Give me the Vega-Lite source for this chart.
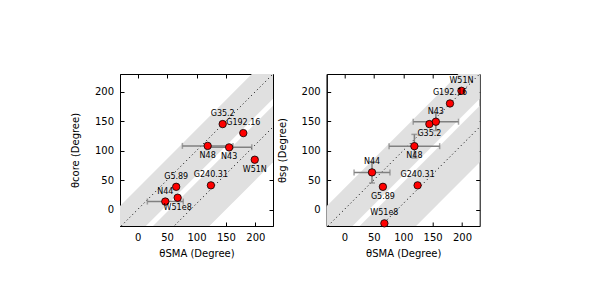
{
  "$schema": "https://vega.github.io/schema/vega-lite/v6.json",
  "background": "white",
  "padding": {"left": 69, "top": 73, "right": 5, "bottom": 5},
  "spacing": 53.7,
  "bounds": "flush",
  "config": {
    "view": {"stroke": "black", "strokeWidth": 1},
    "axis": {
      "grid": false,
      "domainColor": "black",
      "tickColor": "black",
      "labelColor": "black",
      "titleColor": "black",
      "labelFont": "DejaVu Sans",
      "titleFont": "DejaVu Sans",
      "labelFontSize": 10,
      "titleFontSize": 10,
      "titleFontWeight": "normal",
      "tickSize": -4,
      "labelPadding": 10.5
    },
    "axisX": {"titlePadding": 6},
    "axisY": {"titlePadding": 14},
    "text": {"font": "DejaVu Sans", "fontSize": 8}
  },
  "datasets": {
    "src": [
      {"name": "G35.2", "sma": 144.5, "core": 145, "sg": 145},
      {"name": "G192.16", "sma": 179.5, "core": 129.7, "sg": 180},
      {"name": "N48", "sma": 119, "core": 108, "sg": 107.5, "smaErr": 43, "sgErr": 20},
      {"name": "N43", "sma": 155.5, "core": 105.5, "sg": 149, "smaErr": 38.5, "sgErr": 15},
      {"name": "W51N", "sma": 199, "core": 84.5, "sg": 201.5},
      {"name": "G5.89", "sma": 65.5, "core": 38.5, "sg": 38.5},
      {"name": "G240.31", "sma": 124.5, "core": 41, "sg": 41},
      {"name": "N44", "sma": 47, "core": 13.5, "sg": 63, "smaErr": 30.5, "sgErr": 18},
      {"name": "W51e8", "sma": 68, "core": 20, "sg": -23.5}
    ],
    "bands": [
      {"band": "parallel", "x": -100, "lo": -142, "hi": -64},
      {"band": "parallel", "x": 300, "lo": 258, "hi": 336},
      {"band": "perpendicular", "x": -100, "lo": -250, "hi": -154},
      {"band": "perpendicular", "x": 300, "lo": 150, "hi": 246}
    ],
    "lines": [
      {"line": "parallel", "x": -100, "y": -100},
      {"line": "parallel", "x": 300, "y": 300},
      {"line": "perpendicular", "x": -100, "y": -190},
      {"line": "perpendicular", "x": 300, "y": 210}
    ]
  },
  "hconcat": [
    {
      "width": 153,
      "height": 152,
      "resolve": {"axis": {"x": "independent", "y": "independent"}},
      "layer": [
        {
          "data": {"name": "bands"},
          "mark": {"type": "area", "clip": true, "color": "#e0e0e0", "opacity": 1},
          "encoding": {
            "x": {"field": "x", "type": "quantitative", "scale": {"domain": [-30, 230], "nice": false, "zero": false}, "axis": {"orient": "bottom", "values": [0, 50, 100, 150, 200], "title": "θSMA (Degree)"}},
            "y": {"field": "lo", "type": "quantitative", "scale": {"domain": [-28, 230], "nice": false, "zero": false}, "axis": {"orient": "left", "values": [0, 50, 100, 150, 200], "title": "θcore (Degree)"}},
            "y2": {"field": "hi"},
            "detail": {"field": "band"}
          }
        },
        {
          "data": {"name": "lines"},
          "mark": {"type": "line", "clip": true, "color": "black", "strokeWidth": 1, "strokeDash": [1, 3]},
          "encoding": {
            "x": {"field": "x", "type": "quantitative", "axis": null},
            "y": {"field": "y", "type": "quantitative", "axis": null},
            "detail": {"field": "line"}
          }
        },
        {
          "data": {"name": "src"},
          "transform": [{"filter": "isValid(datum.smaErr)"}],
          "mark": {"type": "errorbar", "ticks": {"size": 6}, "color": "#808080", "thickness": 1.5},
          "encoding": {
            "x": {"field": "sma", "type": "quantitative", "axis": null},
            "xError": {"field": "smaErr"},
            "y": {"field": "core", "type": "quantitative", "axis": null}
          }
        },
        {
          "data": {"name": "src"},
          "mark": {"type": "circle", "size": 55, "color": "#ff0000", "opacity": 1, "stroke": "black", "strokeWidth": 0.8},
          "encoding": {
            "x": {"field": "sma", "type": "quantitative", "axis": {"orient": "top", "values": [0, 50, 100, 150, 200], "labels": false, "title": null, "domain": false}},
            "y": {"field": "core", "type": "quantitative", "axis": {"orient": "right", "values": [0, 50, 100, 150, 200], "labels": false, "title": null, "domain": false}}
          }
        },
        {
          "data": {"name": "src"},
          "transform": [{"filter": {"field": "name", "oneOf": ["G35.2", "G192.16", "G5.89", "G240.31", "N44"]}}],
          "mark": {"type": "text", "dy": -10, "baseline": "middle", "align": "center"},
          "encoding": {
            "x": {"field": "sma", "type": "quantitative", "axis": null},
            "y": {"field": "core", "type": "quantitative", "axis": null},
            "text": {"field": "name"}
          }
        },
        {
          "data": {"name": "src"},
          "transform": [{"filter": {"field": "name", "oneOf": ["N48", "N43", "W51N", "W51e8"]}}],
          "mark": {"type": "text", "dy": 10, "baseline": "middle", "align": "center"},
          "encoding": {
            "x": {"field": "sma", "type": "quantitative", "axis": null},
            "y": {"field": "core", "type": "quantitative", "axis": null},
            "text": {"field": "name"}
          }
        }
      ]
    },
    {
      "width": 153,
      "height": 152,
      "resolve": {"axis": {"x": "independent", "y": "independent"}},
      "layer": [
        {
          "data": {"name": "bands"},
          "mark": {"type": "area", "clip": true, "color": "#e0e0e0", "opacity": 1},
          "encoding": {
            "x": {"field": "x", "type": "quantitative", "scale": {"domain": [-30, 230], "nice": false, "zero": false}, "axis": {"orient": "bottom", "values": [0, 50, 100, 150, 200], "title": "θSMA (Degree)"}},
            "y": {"field": "lo", "type": "quantitative", "scale": {"domain": [-28, 230], "nice": false, "zero": false}, "axis": {"orient": "left", "values": [0, 50, 100, 150, 200], "title": "θsg (Degree)"}},
            "y2": {"field": "hi"},
            "detail": {"field": "band"}
          }
        },
        {
          "data": {"name": "lines"},
          "mark": {"type": "line", "clip": true, "color": "black", "strokeWidth": 1, "strokeDash": [1, 3]},
          "encoding": {
            "x": {"field": "x", "type": "quantitative", "axis": null},
            "y": {"field": "y", "type": "quantitative", "axis": null},
            "detail": {"field": "line"}
          }
        },
        {
          "data": {"name": "src"},
          "transform": [{"filter": "isValid(datum.smaErr)"}],
          "mark": {"type": "errorbar", "ticks": {"size": 6}, "color": "#808080", "thickness": 1.5},
          "encoding": {
            "x": {"field": "sma", "type": "quantitative", "axis": null},
            "xError": {"field": "smaErr"},
            "y": {"field": "sg", "type": "quantitative", "axis": null}
          }
        },
        {
          "data": {"name": "src"},
          "transform": [{"filter": "isValid(datum.sgErr)"}],
          "mark": {"type": "errorbar", "ticks": {"size": 6}, "color": "#808080", "thickness": 1.5},
          "encoding": {
            "x": {"field": "sma", "type": "quantitative", "axis": null},
            "y": {"field": "sg", "type": "quantitative", "axis": null},
            "yError": {"field": "sgErr"}
          }
        },
        {
          "data": {"name": "src"},
          "mark": {"type": "circle", "size": 55, "color": "#ff0000", "opacity": 1, "stroke": "black", "strokeWidth": 0.8},
          "encoding": {
            "x": {"field": "sma", "type": "quantitative", "axis": {"orient": "top", "values": [0, 50, 100, 150, 200], "labels": false, "title": null, "domain": false}},
            "y": {"field": "sg", "type": "quantitative", "axis": {"orient": "right", "values": [0, 50, 100, 150, 200], "labels": false, "title": null, "domain": false}}
          }
        },
        {
          "data": {"name": "src"},
          "transform": [{"filter": {"field": "name", "oneOf": ["W51N", "G192.16", "N43", "N44", "G240.31", "W51e8"]}}],
          "mark": {"type": "text", "dy": -10, "baseline": "middle", "align": "center"},
          "encoding": {
            "x": {"field": "sma", "type": "quantitative", "axis": null},
            "y": {"field": "sg", "type": "quantitative", "axis": null},
            "text": {"field": "name"}
          }
        },
        {
          "data": {"name": "src"},
          "transform": [{"filter": {"field": "name", "oneOf": ["G35.2", "N48", "G5.89"]}}],
          "mark": {"type": "text", "dy": 10, "baseline": "middle", "align": "center"},
          "encoding": {
            "x": {"field": "sma", "type": "quantitative", "axis": null},
            "y": {"field": "sg", "type": "quantitative", "axis": null},
            "text": {"field": "name"}
          }
        }
      ]
    }
  ]
}
